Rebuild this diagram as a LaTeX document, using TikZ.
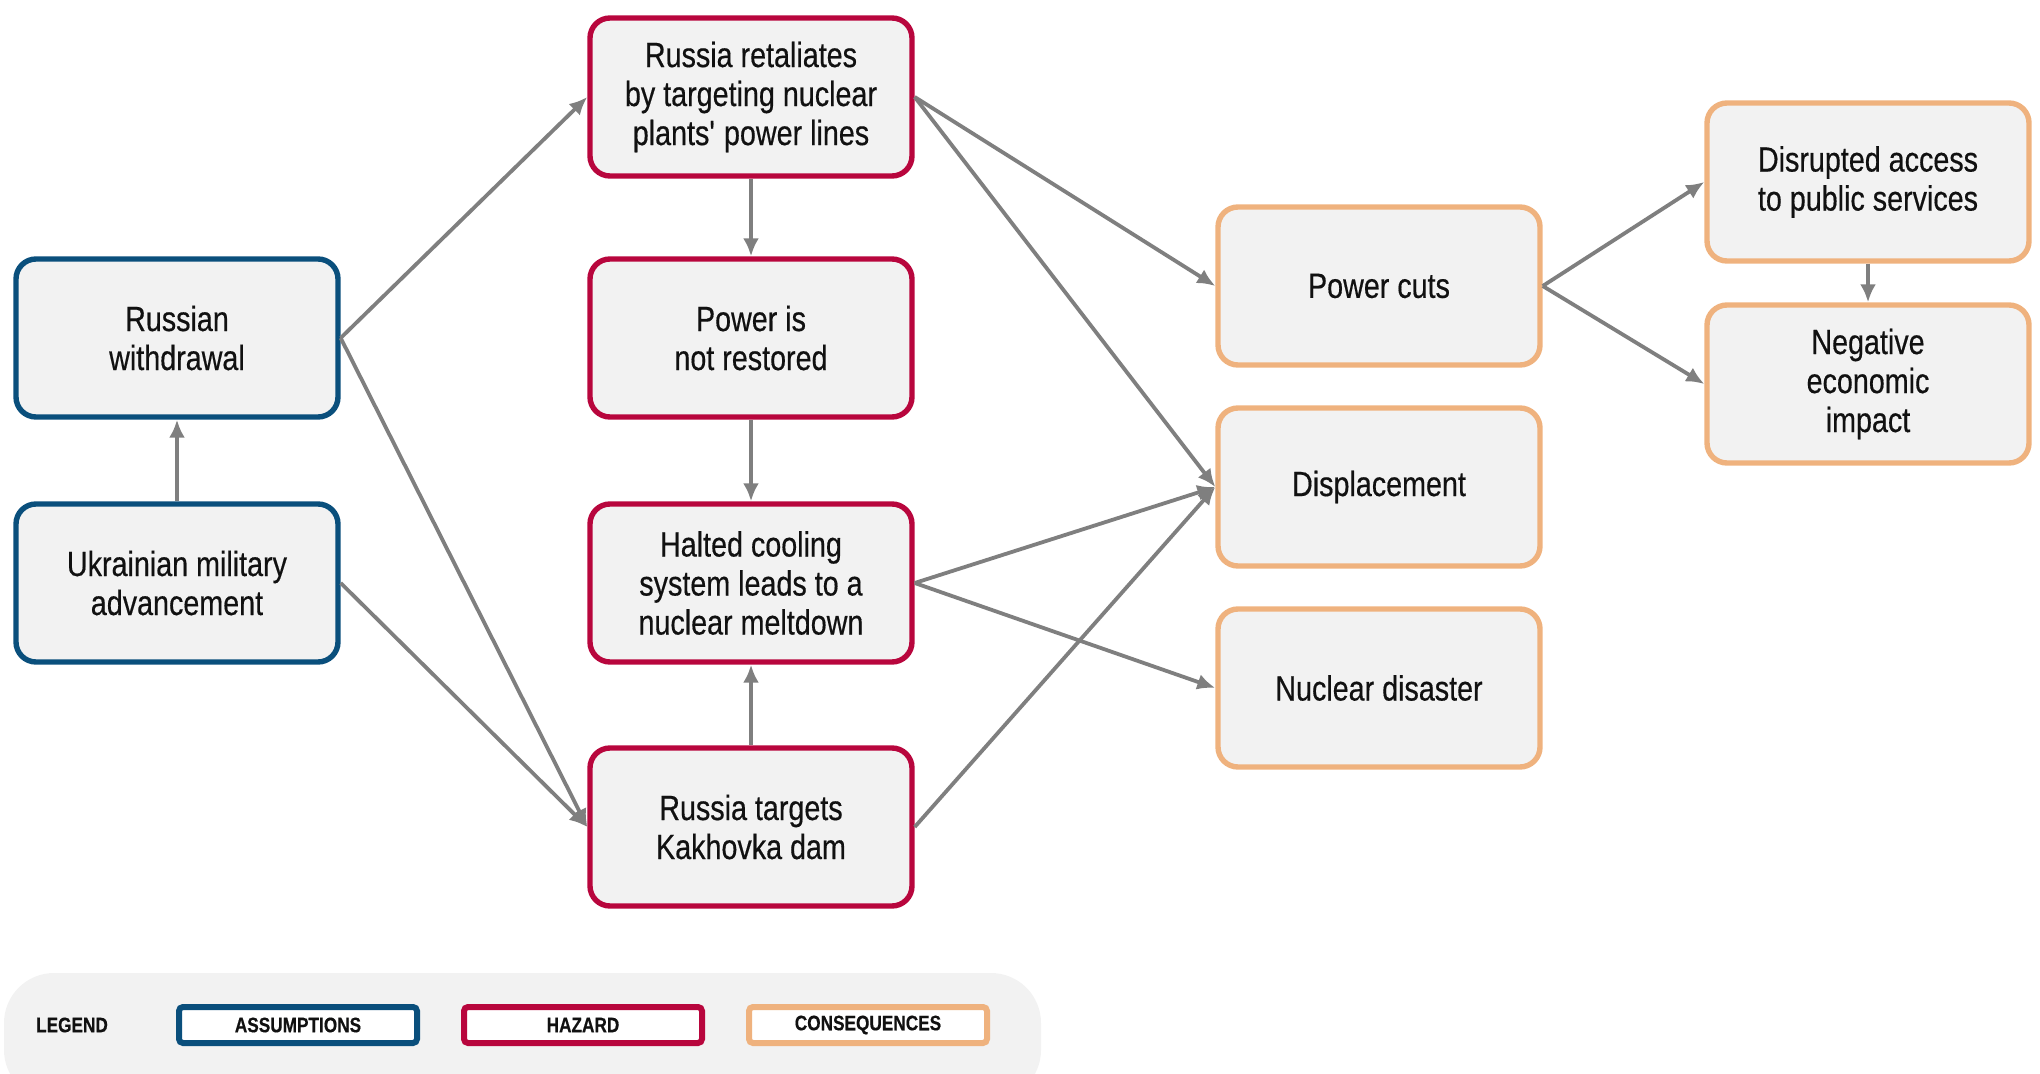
\documentclass[tikz,border=0pt]{standalone}
\usepackage{fontspec}
\setmainfont[FakeStretch=0.82,FakeBold=0.4]{Liberation Sans}
\usetikzlibrary{arrows.meta}
\definecolor{cblue}{HTML}{0A4F7C}
\definecolor{cred}{HTML}{B8063D}
\definecolor{corange}{HTML}{EFB27E}
\definecolor{cfill}{HTML}{F2F2F2}
\definecolor{carrow}{HTML}{7F7F7F}
\definecolor{ctext}{HTML}{111111}
\tikzset{
  box/.style={rounded corners=10pt, line width=2.7pt, fill=cfill, minimum width=161pt, minimum height=79pt,
    align=center, text=ctext, font=\fontsize{17.5}{19.5}\selectfont, inner sep=0pt},
  abox/.style={box, draw=cblue},
  hbox/.style={box, draw=cred},
  cbox/.style={box, draw=corange},
  conn/.style={draw=carrow, line width=1.9pt, -{Latex[length=9pt,width=8pt]}},
  lbox/.style={rounded corners=2pt, line width=3pt, fill=white, minimum width=119pt, minimum height=18pt,
    inner sep=0pt, text=ctext, font=\bfseries\fontsize{10.5}{11}\selectfont},
}
\begin{document}
\begin{tikzpicture}[x=0.5pt,y=-0.5pt]
\useasboundingbox (0,0) rectangle (2040,1074);
% legend background
\fill[cfill, rounded corners=25pt] (4,973) rectangle (1041,1100);
\node[text=ctext, font=\bfseries\fontsize{10.5}{11}\selectfont] (lg) at (72,1025) {LEGEND};
\node[lbox, draw=cblue] (la) at (298,1025) {ASSUMPTIONS};
\node[lbox, draw=cred] (lh) at (583,1025) {HAZARD};
\node[lbox, draw=corange] (lc) at (868,1025) {CONSEQUENCES};
% nodes
\node[abox] (rw) at (177,338) {Russian\\withdrawal};
\node[abox] (ua) at (177,583) {Ukrainian military\\advancement};
\node[hbox] (rr) at (751,97) {Russia retaliates\\by targeting nuclear\\plants\textquotesingle{} power lines};
\node[hbox] (pn) at (751,338) {Power is\\not restored};
\node[hbox] (hc) at (751,583) {Halted cooling\\system leads to a\\nuclear meltdown};
\node[hbox] (rt) at (751,827) {Russia targets\\Kakhovka dam};
\node[cbox] (pc) at (1379,286) {Power cuts};
\node[cbox] (dp) at (1379,487) {Displacement};
\node[cbox] (nd) at (1379,688) {Nuclear disaster};
\node[cbox] (da) at (1868,182) {Disrupted access\\to public services};
\node[cbox] (ne) at (1868,384) {Negative\\economic\\impact};
% connectors
\draw[conn] (ua.north) -- (rw.south);
\draw[conn] (rw.east) -- (rr.west);
\draw[conn] (rw.east) -- (rt.west);
\draw[conn] (ua.east) -- (rt.west);
\draw[conn] (rr.south) -- (pn.north);
\draw[conn] (pn.south) -- (hc.north);
\draw[conn] (rt.north) -- (hc.south);
\draw[conn] (rr.east) -- (pc.west);
\draw[conn] (rr.east) -- (dp.west);
\draw[conn] (hc.east) -- (dp.west);
\draw[conn] (hc.east) -- (nd.west);
\draw[conn] (rt.east) -- (dp.west);
\draw[conn] (pc.east) -- (da.west);
\draw[conn] (pc.east) -- (ne.west);
\draw[conn] (da.south) -- (ne.north);
\end{tikzpicture}
\end{document}
